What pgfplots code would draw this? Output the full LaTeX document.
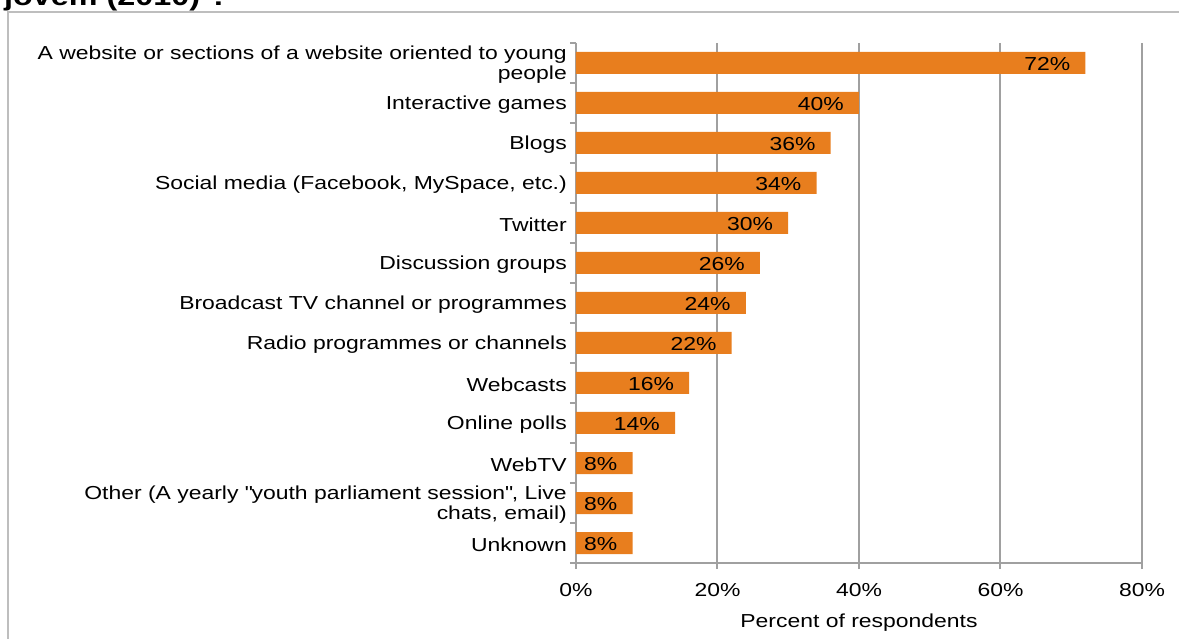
\documentclass[border=0pt]{standalone}
\usepackage{fontspec}
\setmainfont{Liberation Sans}[FakeStretch=1.22]
\usepackage{pgfplots}
\pgfplotsset{compat=1.18}
\definecolor{barorange}{RGB}{232,126,30}
\definecolor{axgray}{RGB}{160,160,160}
\definecolor{framegray}{RGB}{190,190,190}
\newcommand{\cf}{\fontsize{18.8}{20}\selectfont}
\begin{document}
\begin{tikzpicture}
\useasboundingbox (0,0) rectangle (1179pt,639pt);
\draw[framegray, line width=1.5pt] (8pt,-20pt) rectangle (1200pt,627pt);
\node[anchor=base west, inner sep=0pt, font=\fontsize{26.5}{28}\selectfont\bfseries] at (4pt,633pt) {jovem (2010)\textsuperscript{1}:};
\begin{axis}[
  at={(576pt,76pt)}, anchor=south west,
  scale only axis, width=566pt, height=520pt,
  xbar, bar width=22pt,
  xmin=0, xmax=80, ymin=-0.5, ymax=12.5, y dir=reverse,
  axis x line*=bottom, axis y line*=left,
  axis line style={axgray, line width=2pt, -},
  tick align=outside, major tick length=6pt,
  tick style={axgray, line width=2pt},
  xmajorgrids, major grid style={axgray, line width=2pt},
  xtick={0,20,40,60,80}, xticklabels={0\%,20\%,40\%,60\%,80\%},
  xticklabel style={font=\cf, black, inner sep=0pt, yshift=-14pt},
  ytick={-0.5,0.5,1.5,2.5,3.5,4.5,5.5,6.5,7.5,8.5,9.5,10.5,11.5,12.5},
  yticklabels={},
  extra y ticks={0,1,2,3,4,5,6,7,8,9,10,11,12},
  extra y tick labels={
    {A website or sections of a website oriented to young\\people},
    {Interactive games},
    {Blogs},
    {Social media (Facebook, MySpace, etc.)},
    {Twitter},
    {Discussion groups},
    {Broadcast TV channel or programmes},
    {Radio programmes or channels},
    {Webcasts},
    {Online polls},
    {WebTV},
    {Other (A yearly \textquotedbl youth parliament session\textquotedbl, Live\\chats, email)},
    {Unknown}},
  extra y tick style={tick style={draw=none}},
  yticklabel style={font=\cf, black, align=right, inner sep=0pt, xshift=-3pt, yshift=-2pt},
  xlabel={Percent of respondents},
  xlabel style={font=\cf, black, at={(axis description cs:0.5,-0.114)}, anchor=center},
  /pgf/number format/assume math mode=true,
  point meta=x,
  nodes near coords={\pgfmathprintnumber{\pgfplotspointmeta}\%},
  every node near coord/.append style={anchor=east, xshift=-15pt, yshift=-1pt, inner sep=0pt, font=\cf, black},
]
\addplot[fill=barorange, draw=none] coordinates {
  (72,0) (40,1) (36,2) (34,3) (30,4) (26,5) (24,6) (22,7) (16,8) (14,9) (8,10) (8,11) (8,12)
};
\end{axis}
\end{tikzpicture}
\end{document}
